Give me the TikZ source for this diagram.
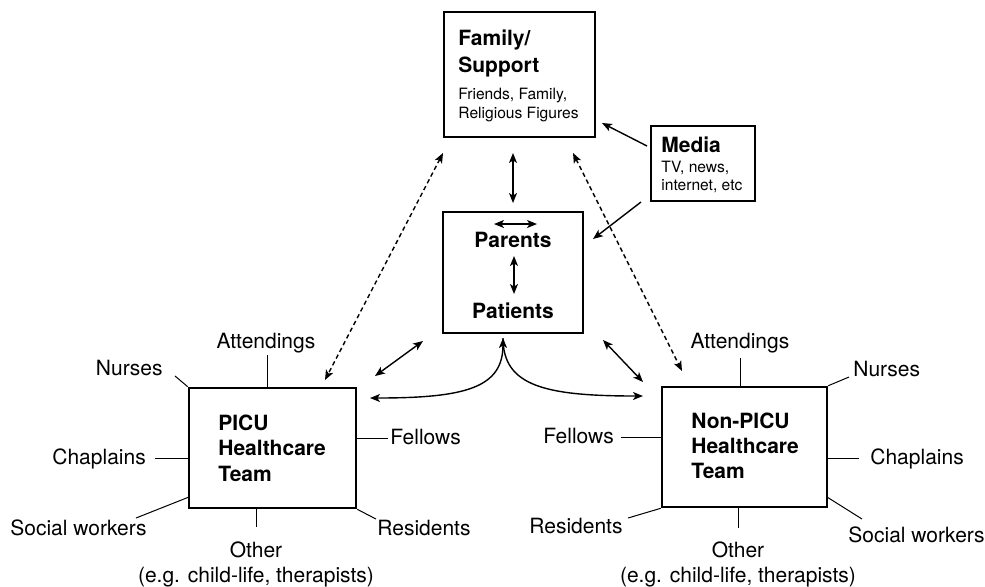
\documentclass[tikz,border=0pt]{standalone}
\usepackage{fontspec}
\setmainfont{TeX Gyre Heros}
\usetikzlibrary{arrows.meta,fit,calc}

\begin{document}
\begin{tikzpicture}[x=0.5pt,y=-0.5pt,
  >={Stealth[length=5pt,width=4pt,inset=1.3pt]},
  box/.style={draw, line width=1.3pt, inner sep=0pt},
  head/.style={inner sep=0pt, font=\fontsize{10.5}{13}\selectfont\bfseries},
  sub/.style={inner sep=0pt, font=\fontsize{7.8}{10}\selectfont},
  lab/.style={inner sep=0pt, font=\fontsize{10.5}{13}\selectfont},
  tie/.style={line width=0.5pt},
  link/.style={line width=0.7pt, <->},
  dashlink/.style={link, dash pattern=on 2.2pt off 1.6pt},
  oneway/.style={line width=0.7pt, ->}]

\useasboundingbox (0,0) rectangle (985,586);

% boxes
\node[box, fit={(444,12) (595,137)}] (family) {};
\node[box, fit={(651,126) (755,201)}] (media) {};
\node[box, fit={(443,212) (583,333)}] (core) {};
\node[box, fit={(189,388) (356,508)}] (picu) {};
\node[box, fit={(662,387) (827,507)}] (nonpicu) {};

% box texts
\node[head, anchor=base west] (famA) at (458,45) {Family/};
\node[head, anchor=base west] (famB) at (458,72) {Support};
\node[sub, anchor=base west] (famC) at (458,99) {Friends, Family,};
\node[sub, anchor=base west] (famD) at (458,118) {Religious Figures};

\node[head, anchor=base west] (medA) at (661,152) {Media};
\node[sub, anchor=base west] (medB) at (661,172) {TV, news,};
\node[sub, anchor=base west] (medC) at (661,190) {internet, etc};

\node[head, anchor=base] (parents) at (513,247) {Parents};
\node[head, anchor=base] (patients) at (513,318) {Patients};

\node[head, anchor=base west] (picuA) at (218,430) {PICU};
\node[head, anchor=base west] (picuB) at (218,455) {Healthcare};
\node[head, anchor=base west] (picuC) at (218,481) {Team};

\node[head, anchor=base west] (npA) at (691,428) {Non-PICU};
\node[head, anchor=base west] (npB) at (691,453) {Healthcare};
\node[head, anchor=base west] (npC) at (691,478) {Team};

% arrows inside the central box
\coordinate (hL) at (494,224); \coordinate (hR) at (537,224);
\coordinate (vT) at (514,256); \coordinate (vB) at (514,294);
\draw[link] (hL) -- (hR);
\draw[link] (vT) -- (vB);

% arrow ends between boxes
\coordinate (fpT) at (513,153);  \coordinate (fpB) at (513,203);
\coordinate (mfS) at (647,146);  \coordinate (mfE) at (602,123);
\coordinate (mcS) at (641,202);  \coordinate (mcE) at (593,239);
\coordinate (dlT) at (443,153);  \coordinate (dlB) at (325,380);
\coordinate (drT) at (573,153);  \coordinate (drB) at (682,371);
\coordinate (slT) at (423,341);  \coordinate (slB) at (375,376);
\coordinate (srT) at (603,340);  \coordinate (srB) at (643,382);
\coordinate (apex) at (503,338);
\coordinate (cL) at (370,398);   \coordinate (cR) at (643,396);

\draw[link] (fpT) -- (fpB);
\draw[oneway] (mfS) -- (mfE);
\draw[oneway] (mcS) -- (mcE);
\draw[dashlink] (dlT) -- (dlB);
\draw[dashlink] (drT) -- (drB);
\draw[link] (slT) -- (slB);
\draw[link] (srT) -- (srB);
\draw[link] (cL) .. controls (465,398) and (503,388) .. (apex);
\draw[oneway] (apex) .. controls (503,386) and (545,396) .. (cR);

% PICU team members
\node[lab, anchor=base east] (lNur) at (163,375) {Nurses};
\draw[tie] (picu.north west) -- (175,376);
\node[lab, anchor=base] (lAtt) at (266,348) {Attendings};
\draw[tie] (267,355) -- (267,388);
\node[lab, anchor=base west] (lCha) at (52,464) {Chaplains};
\draw[tie] (155,458) -- (189,458);
\node[lab, anchor=base west] (lSoc) at (10,535) {Social workers};
\draw[tie] (136,518) -- (189,497);
\node[lab, anchor=base] (lOth) at (256,557) {Other};
\node[lab, anchor=base] (lOthB) at (256,582) {(e.g. child-life, therapists)};
\draw[tie] (256,508) -- (256,527);
\node[lab, anchor=base west] (lFel) at (390,444) {Fellows};
\draw[tie] (356,438) -- (388,438);
\node[lab, anchor=base west] (lRes) at (377,535) {Residents};
\draw[tie] (picu.south east) -- (376,519);

% non-PICU team members
\node[lab, anchor=base] (rAtt) at (740,348) {Attendings};
\draw[tie] (740,358) -- (740,387);
\node[lab, anchor=base west] (rNur) at (853,376) {Nurses};
\draw[tie] (nonpicu.north east) -- (849,377);
\node[lab, anchor=base west] (rFel) at (543,443) {Fellows};
\draw[tie] (621,437) -- (662,437);
\node[lab, anchor=base west] (rCha) at (870,464) {Chaplains};
\draw[tie] (827,458) -- (859,458);
\node[lab, anchor=base west] (rSoc) at (848,542) {Social workers};
\draw[tie] (827,497) -- (862,519);
\node[lab, anchor=base west] (rRes) at (529,533) {Residents};
\draw[tie] (628,518) -- (nonpicu.south west);
\node[lab, anchor=base] (rOth) at (738,557) {Other};
\node[lab, anchor=base] (rOthB) at (738,582) {(e.g. child-life, therapists)};
\draw[tie] (738,507) -- (738,528);

\end{tikzpicture}
\end{document}
